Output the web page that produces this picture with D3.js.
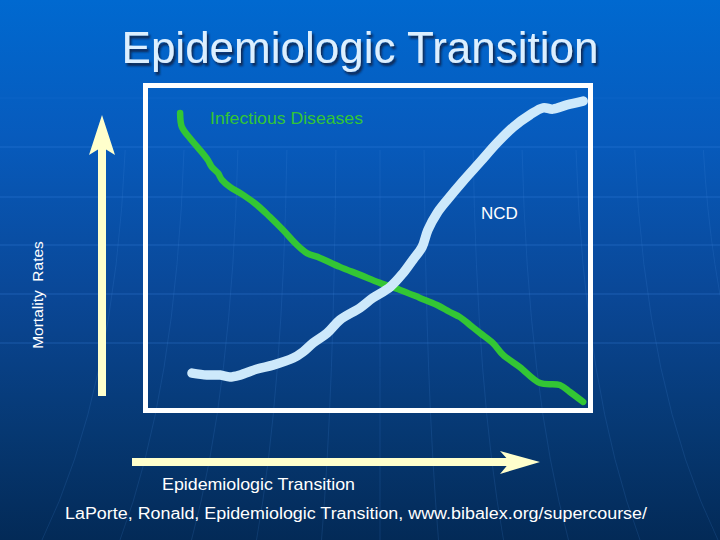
<!DOCTYPE html>
<html>
<head>
<meta charset="utf-8">
<script src="https://cdn.jsdelivr.net/npm/d3@7"></script>
<style>
  html, body { margin: 0; padding: 0; background: #04336e; }
  svg { display: block; }
  text { font-family: "Liberation Sans", Arial, sans-serif; }
</style>
</head>
<body>
<script>
// ---- data (x = stage of transition 0-100, y = mortality rate 0-100)
const infectiousX = [7.3, 7.7, 9.5, 11.4, 13.6, 14.5, 15.9, 16.8, 18.6, 21.6, 24.8, 27.7, 30.7, 33.9, 36.1, 39.1, 43.6, 48.2, 52.7, 57.3, 61.8, 65.7, 68.6, 70.9, 73.2, 75.5, 78.4, 80.7, 84.5, 89.1, 93.6, 95.9, 98.9];
const infectiousY = [92.2, 87.8, 84.4, 81.3, 77.5, 75.3, 73.4, 71.3, 69.1, 66.6, 63.4, 59.7, 55.6, 50.9, 48.4, 46.9, 44.1, 41.6, 39.1, 36.9, 34.4, 32.2, 30.0, 28.4, 25.9, 23.4, 20.3, 16.6, 12.8, 7.8, 7.2, 5.0, 1.9];
const ncdX = [10.0, 13.4, 16.4, 18.6, 20.9, 24.8, 28.4, 33.0, 35.2, 37.5, 40.7, 43.6, 48.2, 51.1, 55.0, 58.0, 60.2, 62.3, 63.6, 65.7, 68.0, 71.6, 75.5, 79.3, 83.0, 86.8, 89.8, 92.0, 95.2, 98.9];
const ncdY = [10.9, 10.3, 10.3, 9.7, 10.3, 12.2, 13.4, 15.6, 17.5, 20.3, 23.4, 27.5, 31.3, 34.4, 37.8, 42.2, 46.3, 50.3, 55.6, 60.9, 65.0, 70.9, 76.9, 82.8, 87.8, 91.6, 93.8, 93.4, 94.7, 95.9];
const seriesNames = ["Infectious Diseases", "NCD"];
const titleText = "Epidemiologic Transition";
const yLabelText = "Mortality  Rates";
const xLabelText = "Epidemiologic Transition";
const sourceText = "LaPorte, Ronald, Epidemiologic Transition, www.bibalex.org/supercourse/";

const W = 720, H = 540;
const svg = d3.select("body").append("svg").attr("width", W).attr("height", H);

// background gradient
const defs = svg.append("defs");
const bg = defs.append("linearGradient").attr("id", "bg").attr("x1", 0).attr("y1", 0).attr("x2", 0).attr("y2", 1);
[[0, "#0069d0"], [0.25, "#075bbd"], [0.55, "#0a4796"], [0.8, "#063872"], [1, "#032a57"]]
  .forEach(([o, c]) => bg.append("stop").attr("offset", o).attr("stop-color", c));
svg.append("rect").attr("width", W).attr("height", H).attr("fill", "url(#bg)");

const shadow = defs.append("filter").attr("id", "shadow").attr("x", "-5%").attr("y", "-20%").attr("width", "115%").attr("height", "150%");
shadow.append("feDropShadow").attr("dx", 2).attr("dy", 3).attr("stdDeviation", 0.8)
  .attr("flood-color", "#0a1a38").attr("flood-opacity", 0.8);

// faint globe grid in the background
const gridRows = [98, 147, 197, 245, 294, 343];
const deco = svg.append("g").attr("fill", "none");
deco.selectAll("line.h").data(gridRows).join("line")
  .attr("x1", 0).attr("x2", W).attr("y1", d => d).attr("y2", d => d)
  .attr("stroke", "#3f8de6").attr("stroke-opacity", d => d < 120 ? 0.15 : 0.35).attr("stroke-width", 1.2);
const meridians = [-260, -200, -145, -95, -45, 0, 45, 95, 145, 200, 260, 330];
deco.selectAll("path.m").data(meridians).join("path")
  .attr("d", d => {
    const cx = 380;
    const xt = cx + d * 0.98, xb = cx + d * 1.3;
    return `M${xt},150 Q${cx + d * 1.02},390 ${xb},540`;
  })
  .attr("stroke", "#4a90e0").attr("stroke-opacity", 0.16).attr("stroke-width", 1);

// title with shadow
svg.append("text").attr("x", 360).attr("y", 63).attr("text-anchor", "middle")
  .attr("font-size", 44).attr("fill", "#dcefff").attr("filter", "url(#shadow)").text(titleText);

// scales
const x = d3.scaleLinear().domain([0, 100]).range([148, 588]);
const y = d3.scaleLinear().domain([0, 100]).range([408, 88]);

// plot frame
svg.append("rect").attr("x", 145.5).attr("y", 85.5).attr("width", 445).attr("height", 325)
  .attr("fill", "none").attr("stroke", "#ffffff").attr("stroke-width", 5);

const line = d3.line().x(d => x(d[0])).y(d => y(d[1])).curve(d3.curveCatmullRom.alpha(0.5));
const infPts = infectiousX.map((v, i) => [v, infectiousY[i]]);
const ncdPts = ncdX.map((v, i) => [v, ncdY[i]]);

svg.append("path").datum(infPts).attr("d", line)
  .attr("fill", "none").attr("stroke", "#33c634").attr("stroke-width", 6.5)
  .attr("stroke-linecap", "round").attr("stroke-linejoin", "round");
svg.append("path").datum(ncdPts).attr("d", line)
  .attr("fill", "none").attr("stroke", "#cde9fb").attr("stroke-width", 9.5)
  .attr("stroke-linecap", "round").attr("stroke-linejoin", "round");

// series labels
svg.append("text").attr("x", 210).attr("y", 124).attr("font-size", 17).attr("fill", "#33c634")
  .attr("textLength", 153).attr("lengthAdjust", "spacingAndGlyphs").text(seriesNames[0]);
svg.append("text").attr("x", 481).attr("y", 219).attr("font-size", 17).attr("fill", "#ffffff").text(seriesNames[1]);

// axis arrows
const cream = "#ffffcc";
svg.append("rect").attr("x", 98).attr("y", 140).attr("width", 8).attr("height", 256).attr("fill", cream);
svg.append("path").attr("d", "M102,115 L115,155 L102,147 L89,155 Z").attr("fill", cream);
svg.append("rect").attr("x", 132).attr("y", 458).attr("width", 385).attr("height", 8).attr("fill", cream);
svg.append("path").attr("d", "M540,462 L500,451 L510,462 L500,474 Z").attr("fill", cream);

// axis labels
svg.append("text").attr("transform", "translate(43,295) rotate(-90)").attr("text-anchor", "middle")
  .attr("font-size", 15.5).attr("fill", "#ffffff").style("white-space", "pre").text(yLabelText);
svg.append("text").attr("x", 162).attr("y", 490).attr("font-size", 17).attr("fill", "#ffffff")
  .attr("textLength", 193).attr("lengthAdjust", "spacingAndGlyphs").text(xLabelText);
svg.append("text").attr("x", 65).attr("y", 519).attr("font-size", 16).attr("fill", "#ffffff")
  .attr("textLength", 582).attr("lengthAdjust", "spacingAndGlyphs").text(sourceText);
</script>
</body>
</html>
